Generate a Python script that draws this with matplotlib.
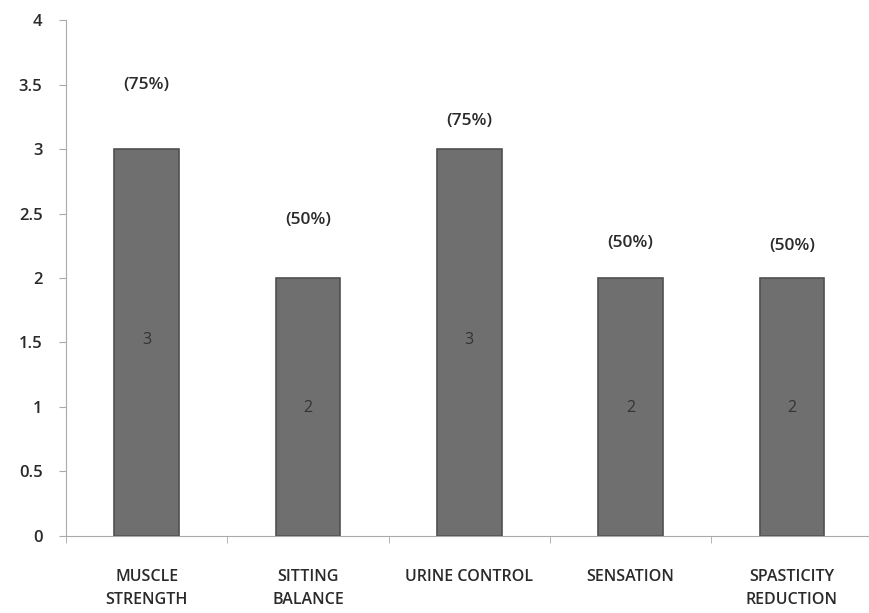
import matplotlib.pyplot as plt
import numpy as np

categories = ['MUSCLE\nSTRENGTH', 'SITTING\nBALANCE', 'URINE CONTROL', 'SENSATION', 'SPASTICITY\nREDUCTION']
values = [3, 2, 3, 2, 2]
pct_labels = ['(75%)', '(50%)', '(75%)', '(50%)', '(50%)']
pct_y = [3.5, 2.45, 3.22, 2.27, 2.25]
val_label_y = [1.52, 0.99, 1.52, 0.99, 0.99]

plt.rcParams['font.family'] = ['Open Sans', 'DejaVu Sans']

fig = plt.figure(figsize=(8.69, 6.13), dpi=100)
ax = fig.add_axes([0.076, 0.126, 0.928, 0.841])

x = np.arange(len(categories))
ax.bar(x, values, width=0.4, color='#6f6f6f', edgecolor='#505050', linewidth=1.2)

for i in range(len(x)):
    ax.text(x[i], pct_y[i], pct_labels[i], ha='center', va='center', fontsize=12.5,
            fontweight='semibold', color='#2a2a2a')
    ax.text(x[i], val_label_y[i], str(values[i]), ha='center', va='center', fontsize=11.5,
            color='#333333')

ax.set_xlim(-0.5, len(x) - 0.5)
ax.set_ylim(0, 4)
ax.set_yticks(np.arange(0, 4.01, 0.5))
ax.set_yticklabels(['0', '0.5', '1', '1.5', '2', '2.5', '3', '3.5', '4'], fontsize=12,
                   fontweight='semibold', color='#2a2a2a')
ax.set_xticks(x)
ax.set_xticklabels(categories, fontsize=11.5, fontweight='semibold', color='#2a2a2a',
                   linespacing=1.55)
ax.set_xticks(np.arange(-0.5, len(x), 1.0), minor=True)
ax.tick_params(axis='x', which='major', length=0, pad=24)
ax.tick_params(axis='x', which='minor', length=5, color='#aaaaaa')
ax.tick_params(axis='y', length=5, color='#aaaaaa', pad=12)

for s in ['top', 'right']:
    ax.spines[s].set_visible(False)
ax.spines['left'].set_color('#aaaaaa')
ax.spines['bottom'].set_color('#aaaaaa')

plt.savefig('out.png', dpi=100)
